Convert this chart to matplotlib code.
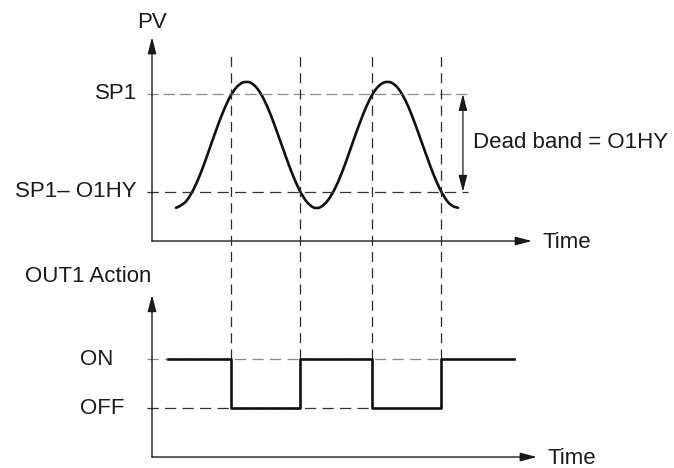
import matplotlib
matplotlib.use('Agg')
import matplotlib.pyplot as plt
from matplotlib.path import Path
from matplotlib.patches import PathPatch

# ---- data (time in arbitrary units, PV normalised) ----
time_pv = [0.0, 0.5, 1.0, 1.5, 2.0, 2.5, 3.0, 3.5, 4.0, 4.5,
           5.0, 5.5, 6.0, 6.5, 7.0, 7.5, 8.0, 8.5, 9.0, 9.5,
           10.0, 10.5, 11.0, 11.5, 12.0, 12.5, 13.0, 13.5, 14.0, 14.5,
           15.0, 15.5, 16.0, 16.5, 17.0, 17.5, 18.0, 18.5, 19.0, 19.5, 20.0]
pv = [-0.98, -0.94, -0.80, -0.58, -0.30, 0.02, 0.33, 0.61, 0.83, 0.96,
      1.00, 0.96, 0.82, 0.60, 0.31, 0.00, -0.31, -0.59, -0.81, -0.95,
      -1.00, -0.94, -0.80, -0.58, -0.30, 0.02, 0.33, 0.61, 0.83, 0.96,
      1.00, 0.96, 0.82, 0.60, 0.31, 0.00, -0.31, -0.59, -0.81, -0.95, -0.98]
sp1 = 0.80          # SP1
sp1_low = -0.73     # SP1 - O1HY

switch_t = [3.9, 8.8, 13.9, 18.8]           # where OUT1 changes state
out_t = [-0.6, 3.9, 8.8, 13.9, 18.8, 24.0]
out_state = [1, 0, 1, 0, 1, 1]
ON, OFF = 1, 0

level_labels = ['SP1', 'SP1\u2013 O1HY']
out_labels = ['ON', 'OFF']
# end of data

# layout (data units of the two overlaid axes)
XLIM = (-12.48, 35.32)
PV_YLIM = (-5.05, 2.27)
OUT_YLIM = (-1.224, 8.327)
T_AXIS = -1.7
FS = 16
INK = '#1a1a1a'

plt.rcParams['font.family'] = ['Liberation Sans', 'DejaVu Sans']


def arrow(ax, x0, y0, x1, y1, style='-|>,head_length=1.0,head_width=0.26', lw=1.0):
    ax.annotate('', xy=(x1, y1), xytext=(x0, y0),
                arrowprops=dict(arrowstyle=style, color=INK, lw=lw,
                                mutation_scale=10, shrinkA=0, shrinkB=0))
# end of arrow()


def smooth_path(x, y):
    # quadratic Bezier through midpoints, read points used as control points
    verts = [(x[0], y[0])]
    codes = [Path.MOVETO]
    for i in range(1, len(x) - 1):
        verts += [(x[i], y[i]), ((x[i] + x[i+1]) / 2, (y[i] + y[i+1]) / 2)]
        codes += [Path.CURVE3, Path.CURVE3]
    verts.append((x[-1], y[-1]))
    codes.append(Path.LINETO)
    return Path(verts, codes)
# end of smooth_path()


def main():
    fig = plt.figure(figsize=(6.74, 4.68), dpi=100)
    ax_pv = fig.add_axes([0, 0, 1, 1])
    ax_out = fig.add_axes([0, 0, 1, 1])
    ax_out.patch.set_visible(False)
    for ax in (ax_pv, ax_out):
        ax.set_xlim(*XLIM)
        ax.axis('off')
    ax_pv.set_ylim(*PV_YLIM)
    ax_out.set_ylim(*OUT_YLIM)

    # ---- PV panel ----
    arrow(ax_pv, T_AXIS, -1.5, T_AXIS, 1.69)
    arrow(ax_pv, T_AXIS, -1.5, 25.25, -1.5)
    ax_pv.text(T_AXIS, 1.92, 'PV', ha='center', va='center', fontsize=FS, color=INK)
    ax_pv.text(25.96, -1.52, 'Time', ha='left', va='center', fontsize=FS, color=INK)

    ax_pv.plot([-2.06, 20.7], [sp1, sp1], color='#8a8a8a', lw=0.9, ls=(0, (9, 4)))
    ax_pv.plot([-2.06, 20.7], [sp1_low, sp1_low], color='#333333', lw=0.9, ls=(0, (9, 5)))
    ax_pv.text(-2.77, sp1, level_labels[0], ha='right', va='center', fontsize=FS, color=INK)
    ax_pv.text(-2.77, sp1_low, level_labels[1], ha='right', va='center', fontsize=FS, color=INK)

    ax_pv.add_patch(PathPatch(smooth_path(time_pv, pv), fill=False,
                              edgecolor='#111111', lw=1.9, capstyle='round'))

    arrow(ax_pv, 20.35, sp1_low, 20.35, sp1,
          style='<|-|>,head_length=1.0,head_width=0.26', lw=0.9)
    ax_pv.text(21.06, (sp1 + sp1_low) / 2, 'Dead band = O1HY',
               ha='left', va='center', fontsize=FS, color=INK)

    # ---- OUT1 panel ----
    arrow(ax_out, T_AXIS, -1.0, T_AXIS, 2.31)
    arrow(ax_out, T_AXIS, -1.0, 25.6, -1.0)
    ax_out.text(-6.24, 2.69, 'OUT1 Action', ha='center', va='center', fontsize=FS, color=INK)
    ax_out.text(26.38, -1.02, 'Time', ha='left', va='center', fontsize=FS, color=INK)

    ax_out.plot([-2.06, switch_t[3]], [ON, ON], color='#8a8a8a', lw=0.9, ls=(0, (9, 5)))
    ax_out.plot([-2.06, switch_t[2]], [OFF, OFF], color='#333333', lw=0.9, ls=(0, (9, 5)))
    ax_out.text(-6.81, ON, out_labels[0], ha='left', va='center', fontsize=FS, color=INK)
    ax_out.text(-6.81, OFF, out_labels[1], ha='left', va='center', fontsize=FS, color=INK)

    # switching instants, dashed through both panels
    ax_out.vlines(switch_t, ON, 7.25, colors='#2a2a2a', lw=0.9, linestyles=[(0, (8, 5))])

    ax_out.step(out_t, out_state, where='post', color='#111111', lw=1.9)

    fig.savefig('out.png', dpi=100)
# end of main()


if __name__ == '__main__':
    main()
